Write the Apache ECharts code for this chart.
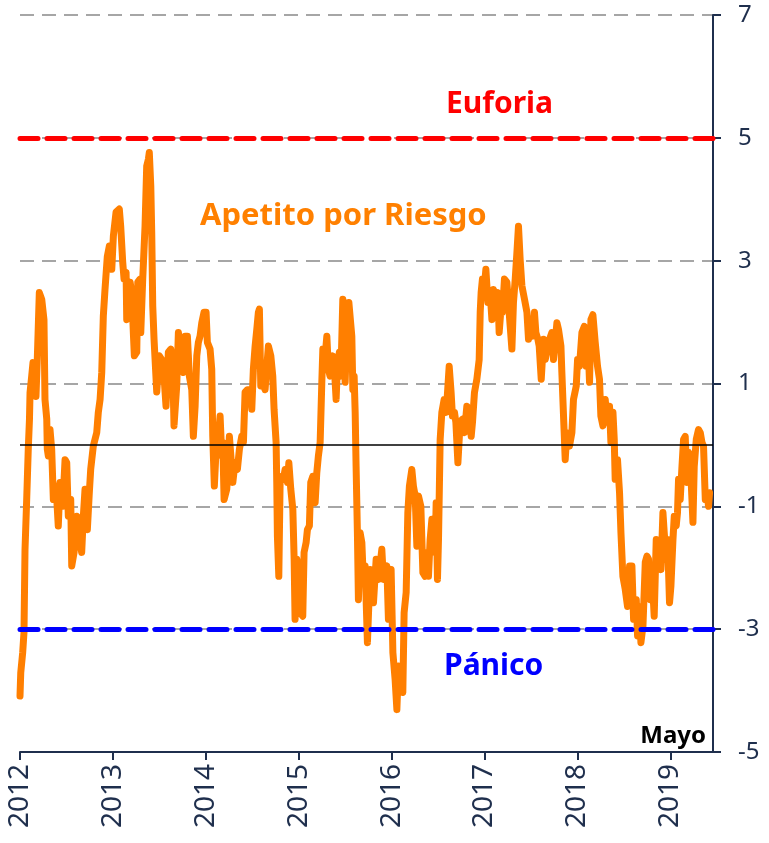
<!DOCTYPE html>
<html>
<head>
<meta charset="utf-8">
<script src="https://cdn.jsdelivr.net/npm/echarts@6/dist/echarts.min.js"></script>
<style>
  html, body { margin: 0; padding: 0; background: #ffffff; }
  #chart { width: 769px; height: 843px; }
</style>
</head>
<body>
<div id="chart"></div>
<script>
// ---- DATA ----
// time as decimal years
const years = [
  2012.000, 2012.008, 2012.029, 2012.043, 2012.054, 2012.072, 2012.089, 2012.102, 2012.108, 2012.126,
  2012.140, 2012.172, 2012.186, 2012.208, 2012.234, 2012.258, 2012.269, 2012.288, 2012.294, 2012.305,
  2012.323, 2012.341, 2012.359, 2012.388, 2012.412, 2012.431, 2012.460, 2012.485, 2012.503, 2012.520,
  2012.546, 2012.557, 2012.582, 2012.611, 2012.639, 2012.664, 2012.682, 2012.700, 2012.725, 2012.746,
  2012.761, 2012.789, 2012.826, 2012.843, 2012.862, 2012.880, 2012.897, 2012.915, 2012.940, 2012.962,
  2012.988, 2013.005, 2013.034, 2013.069, 2013.084, 2013.106, 2013.120, 2013.142, 2013.149, 2013.166,
  2013.185, 2013.203, 2013.220, 2013.231, 2013.257, 2013.268, 2013.292, 2013.300, 2013.321, 2013.346,
  2013.364, 2013.382, 2013.392, 2013.408, 2013.418, 2013.429, 2013.443, 2013.472, 2013.500, 2013.526,
  2013.543, 2013.572, 2013.597, 2013.623, 2013.644, 2013.658, 2013.687, 2013.705, 2013.723, 2013.741,
  2013.759, 2013.777, 2013.802, 2013.823, 2013.849, 2013.866, 2013.885, 2013.903, 2013.920, 2013.938,
  2013.957, 2013.981, 2014.003, 2014.017, 2014.046, 2014.064, 2014.075, 2014.092, 2014.111, 2014.135,
  2014.154, 2014.172, 2014.183, 2014.197, 2014.226, 2014.254, 2014.269, 2014.291, 2014.315, 2014.340,
  2014.362, 2014.387, 2014.405, 2014.423, 2014.448, 2014.477, 2014.495, 2014.512, 2014.531, 2014.549,
  2014.566, 2014.577, 2014.592, 2014.614, 2014.638, 2014.657, 2014.674, 2014.700, 2014.721, 2014.735,
  2014.757, 2014.764, 2014.771, 2014.786, 2014.800, 2014.818, 2014.835, 2014.854, 2014.879, 2014.894,
  2014.915, 2014.937, 2014.951, 2014.961, 2014.980, 2014.997, 2015.015, 2015.044, 2015.058, 2015.080,
  2015.094, 2015.115, 2015.130, 2015.152, 2015.177, 2015.195, 2015.212, 2015.231, 2015.249, 2015.260,
  2015.285, 2015.303, 2015.320, 2015.338, 2015.367, 2015.385, 2015.403, 2015.417, 2015.438, 2015.454,
  2015.475, 2015.489, 2015.500, 2015.518, 2015.540, 2015.561, 2015.572, 2015.583, 2015.597, 2015.608,
  2015.618, 2015.632, 2015.643, 2015.661, 2015.680, 2015.697, 2015.715, 2015.740, 2015.769, 2015.805,
  2015.834, 2015.858, 2015.895, 2015.912, 2015.949, 2015.966, 2015.995, 2016.014, 2016.038, 2016.057,
  2016.074, 2016.092, 2016.121, 2016.135, 2016.157, 2016.175, 2016.192, 2016.218, 2016.235, 2016.254,
  2016.272, 2016.289, 2016.315, 2016.337, 2016.361, 2016.380, 2016.397, 2016.415, 2016.434, 2016.451,
  2016.469, 2016.480, 2016.494, 2016.505, 2016.523, 2016.541, 2016.566, 2016.588, 2016.602, 2016.620,
  2016.641, 2016.655, 2016.677, 2016.692, 2016.714, 2016.738, 2016.763, 2016.785, 2016.810, 2016.835,
  2016.857, 2016.871, 2016.892, 2016.918, 2016.943, 2016.954, 2016.964, 2016.978, 2017.000, 2017.015,
  2017.037, 2017.061, 2017.080, 2017.097, 2017.123, 2017.144, 2017.158, 2017.180, 2017.194, 2017.215,
  2017.241, 2017.258, 2017.277, 2017.295, 2017.312, 2017.331, 2017.349, 2017.366, 2017.384, 2017.403,
  2017.431, 2017.457, 2017.474, 2017.492, 2017.517, 2017.538, 2017.553, 2017.575, 2017.589, 2017.611,
  2017.636, 2017.654, 2017.689, 2017.726, 2017.743, 2017.780, 2017.797, 2017.823, 2017.833, 2017.851,
  2017.869, 2017.887, 2017.915, 2017.941, 2017.958, 2017.988, 2018.002, 2018.023, 2018.049, 2018.074,
  2018.095, 2018.109, 2018.131, 2018.146, 2018.167, 2018.192, 2018.217, 2018.238, 2018.253, 2018.275,
  2018.300, 2018.318, 2018.346, 2018.361, 2018.383, 2018.397, 2018.407, 2018.432, 2018.454, 2018.469,
  2018.490, 2018.515, 2018.540, 2018.562, 2018.587, 2018.605, 2018.634, 2018.648, 2018.669, 2018.684,
  2018.706, 2018.731, 2018.749, 2018.766, 2018.784, 2018.803, 2018.827, 2018.849, 2018.863, 2018.884,
  2018.900, 2018.921, 2018.935, 2018.957, 2018.971, 2018.992, 2019.007, 2019.029, 2019.043, 2019.064,
  2019.078, 2019.089, 2019.107, 2019.126, 2019.143, 2019.161, 2019.180, 2019.197, 2019.215, 2019.244,
  2019.258, 2019.280, 2019.304, 2019.323, 2019.341, 2019.358, 2019.377, 2019.395, 2019.412, 2019.423
];
// risk appetite index
const riskAppetite = [
  -4.09, -3.71, -3.38, -3.05, -1.70, -0.89, -0.07, 0.42, 0.85, 1.12,
  1.34, 0.79, 1.39, 2.48, 2.37, 2.04, 0.74, 0.42, -0.07, -0.18,
  0.25, -0.07, -0.89, -0.67, -1.32, -0.61, -1.00, -0.24, -0.29, -1.16,
  -0.89, -1.97, -1.75, -1.16, -1.54, -1.75, -1.16, -0.72, -1.38, -0.78,
  -0.40, -0.02, 0.20, 0.53, 0.74, 1.18, 2.10, 2.53, 3.07, 3.24,
  2.86, 3.40, 3.79, 3.84, 3.56, 2.97, 2.70, 2.81, 2.04, 2.10,
  2.65, 2.48, 1.83, 1.45, 1.51, 2.65, 2.70, 1.83, 2.70, 3.56,
  4.54, 4.65, 4.76, 4.21, 3.46, 2.26, 1.72, 0.86, 1.45, 1.39,
  1.28, 0.63, 1.51, 1.56, 1.28, 0.31, 0.96, 1.83, 1.83, 1.39,
  1.18, 1.77, 1.77, 1.12, 0.90, 0.14, 0.63, 1.45, 1.67, 1.77,
  1.99, 2.16, 2.16, 1.67, 1.56, 1.23, 0.14, -0.67, -0.07, 0.14,
  0.47, -0.18, 0.04, -0.89, -0.72, 0.14, 0.14, -0.61, -0.29, -0.40,
  -0.07, 0.14, 0.04, 0.86, 0.90, 0.90, 0.58, 1.23, 1.61, 1.88,
  2.16, 2.21, 0.96, 1.02, 0.90, 0.90, 1.61, 1.45, 1.12, 0.58,
  0.04, -0.61, -1.49, -2.14, -0.61, -0.51, -0.56, -0.40, -0.61, -0.29,
  -0.72, -1.05, -1.86, -2.84, -1.86, -2.03, -2.73, -2.79, -1.75, -1.59,
  -1.38, -1.32, -0.61, -0.51, -0.94, -0.45, -0.18, 0.04, 1.02, 1.56,
  1.45, 1.77, 1.23, 1.12, 1.45, 1.23, 0.74, 1.28, 1.51, 1.12,
  2.37, 2.26, 1.02, 1.83, 2.32, 2.32, 1.77, 0.90, 1.12, 0.53,
  -0.35, -1.43, -2.52, -1.43, -1.59, -2.24, -1.97, -3.22, -2.03, -2.57,
  -1.86, -2.19, -1.70, -2.19, -1.97, -2.84, -2.03, -3.38, -3.82, -4.31,
  -3.60, -3.93, -4.03, -2.73, -2.40, -1.10, -0.67, -0.40, -0.67, -0.83,
  -1.65, -0.83, -1.00, -2.08, -2.14, -1.75, -2.14, -1.54, -1.21, -1.43,
  -1.75, -0.94, -2.19, -1.54, 0.09, 0.53, 0.74, 0.53, 0.85, 1.28,
  0.85, 0.47, 0.53, 0.37, -0.29, 0.37, 0.42, 0.20, 0.63, 0.58,
  0.14, 0.37, 0.85, 1.07, 1.39, 2.16, 2.48, 2.70, 2.59, 2.86,
  2.32, 2.48, 2.04, 2.53, 2.37, 2.48, 1.83, 2.26, 2.16, 2.70,
  2.65, 2.32, 1.93, 1.56, 2.32, 2.70, 3.13, 3.56, 3.02, 2.59,
  2.37, 2.16, 1.72, 1.93, 1.77, 2.16, 1.83, 1.72, 1.61, 1.07,
  1.72, 1.39, 1.67, 1.83, 1.39, 1.99, 1.88, 1.61, 1.18, 0.47,
  -0.24, 0.20, -0.02, 0.20, 0.74, 0.96, 1.39, 1.28, 1.83, 1.93,
  1.28, 1.88, 1.02, 2.04, 2.12, 1.67, 1.28, 1.07, 0.47, 0.31,
  0.74, 0.37, 0.63, 0.04, 0.53, 0.09, -0.56, -0.24, -0.78, -1.43,
  -2.14, -2.35, -2.63, -1.97, -1.97, -2.84, -2.52, -3.11, -2.63, -3.22,
  -2.95, -1.91, -1.81, -1.86, -2.52, -2.08, -2.79, -1.54, -1.54, -1.97,
  -2.03, -1.10, -1.43, -1.86, -1.54, -2.57, -2.30, -1.54, -1.16, -1.32,
  -1.10, -0.56, -0.89, -0.35, 0.09, 0.14, -0.61, -0.12, -0.24, -1.26,
  -0.35, 0.09, 0.25, 0.20, 0.04, -0.02, -0.89, -0.78, -1.00, -0.78
];
const yearTicks = [2012, 2013, 2014, 2015, 2016, 2017, 2018, 2019];
const xStart = 2012;
const xEnd = 2019.46;
const euforiaLevel = 5;
const panicoLevel = -3;
const neutralLevel = 0;
const labels = { euforia: 'Euforia', apetito: 'Apetito por Riesgo', panico: 'Pánico', mayo: 'Mayo' };

const seriesData = years.map((t, i) => [t, riskAppetite[i]]);

const navy = '#1f2f4d';
const chart = echarts.init(document.getElementById('chart'), null, { renderer: 'canvas' });
chart.setOption({
  animation: false,
  backgroundColor: '#ffffff',
  grid: { left: 20, right: 56, top: 15, bottom: 91, containLabel: false },
  xAxis: {
    type: 'value',
    min: xStart,
    max: xEnd,
    position: 'bottom',
    axisLine: { show: true, onZero: false, lineStyle: { color: navy, width: 2 } },
    axisTick: { show: true, inside: false, length: 8, customValues: yearTicks, lineStyle: { color: navy, width: 2 } },
    axisLabel: {
      show: true, customValues: yearTicks, rotate: 90, margin: 12,
      color: navy, fontSize: 28, fontFamily: 'Noto Sans',
      formatter: v => String(Math.round(v))
    },
    splitLine: { show: false }
  },
  yAxis: {
    type: 'value',
    min: -5,
    max: 7,
    interval: 2,
    position: 'right',
    axisLine: { show: true, onZero: false, lineStyle: { color: navy, width: 2 } },
    axisTick: { show: true, inside: false, length: 8, lineStyle: { color: navy, width: 2 } },
    axisLabel: {
      show: true, align: 'left', margin: 25,
      color: navy, fontSize: 24, fontFamily: 'Noto Sans'
    },
    splitLine: { show: true, lineStyle: { color: '#a6a6a6', width: 2, type: [14, 8] } }
  },
  series: [
    {
      type: 'line',
      name: labels.apetito,
      data: seriesData,
      showSymbol: false,
      symbol: 'none',
      z: 2,
      lineStyle: { color: '#ff7f00', width: 7, join: 'round', cap: 'round' }
    },
    {
      type: 'line',
      data: [],
      z: 5,
      markLine: {
        silent: true,
        symbol: 'none',
        label: { show: false },
        animation: false,
        data: [
          { yAxis: neutralLevel, lineStyle: { color: '#000000', width: 1.5, type: 'solid' } },
          { yAxis: euforiaLevel, lineStyle: { color: '#ff0000', width: 5, type: [18, 9], cap: 'round' } },
          { yAxis: panicoLevel, lineStyle: { color: '#0000ff', width: 5, type: [18, 9], cap: 'round' } }
        ]
      }
    }
  ],
  graphic: [
    { type: 'text', left: 446, top: 89, style: { text: labels.euforia, fill: '#ff0000', font: 'bold 30px "Noto Sans"' } },
    { type: 'text', left: 200, top: 201, style: { text: labels.apetito, fill: '#ff8000', font: 'bold 31px "Noto Sans"' } },
    { type: 'text', left: 444, top: 651, style: { text: labels.panico, fill: '#0000ff', font: 'bold 30px "Noto Sans"' } },
    { type: 'text', right: 63, top: 724, style: { text: labels.mayo, fill: '#000000', font: 'bold 24px "Noto Sans"' } }
  ]
});
</script>
</body>
</html>
